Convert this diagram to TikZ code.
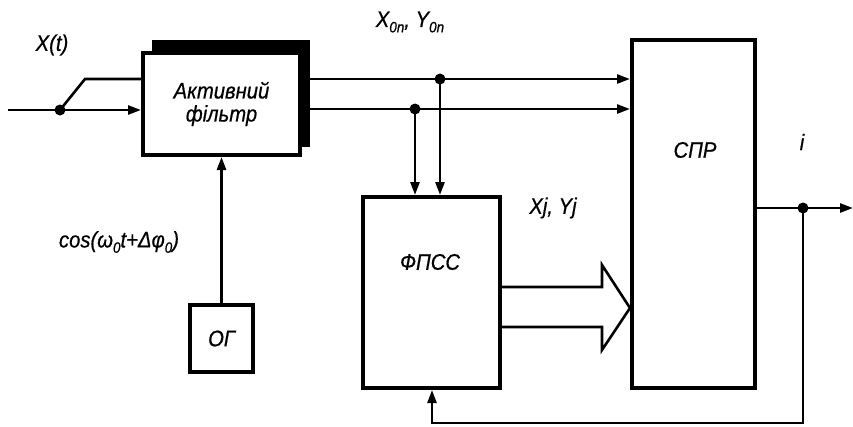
\documentclass[tikz,border=0pt]{standalone}
\usepackage{fontspec}
\setmainfont{Liberation Sans}[FakeStretch=0.9,FakeBold=0.6]
\usetikzlibrary{arrows.meta}
\newcommand{\lowidx}[1]{\raisebox{-0.45ex}{\fontsize{15}{15}\selectfont #1}}
\begin{document}
\begin{tikzpicture}[x=1pt,y=-1pt,
  box/.style={draw,line width=4pt,fill=white,inner sep=0pt},
  conn/.style={line width=2.6pt},
  arr/.style={conn,-{Triangle[length=13pt,width=9pt]}},
  lbl/.style={font=\fontsize{22.5}{25}\selectfont\itshape,inner sep=0pt},
  dot/.style={circle,fill=black,inner sep=0pt,minimum size=11pt}]
\useasboundingbox (0,0) rectangle (853,426);
% blocks
\fill (152,40) rectangle (310,147);
\node[box,minimum width=157pt,minimum height=102pt] (af) at (221.5,104) {};
\node[lbl,align=center] (aft) at (af.center) {Активний\\[-2pt]фільтр};
\node[box,minimum width=123pt,minimum height=348pt] (spr) at (693.5,214) {};
\node[lbl] (sprt) at (695,150) {СПР};
\node[box,minimum width=137pt,minimum height=191pt] (fp) at (431.5,292.5) {};
\node[lbl] (fpt) at (430,262) {ФПСС};
\node[box,minimum width=63pt,minimum height=67pt] (og) at (221.5,338.5) {};
\node[lbl] (ogt) at (og.center) {ОГ};
% coordinates
\coordinate (in) at (8,110);
\coordinate (k) at (85,79);
\coordinate (low) at (300,109);
\coordinate (dA) at (440,79);
\coordinate (dB) at (415,109);
\coordinate (o) at (spr.east |- 0,208);
\coordinate (out) at (853,208);
\coordinate (d3) at (803,208);
\coordinate (fb1) at (803,423);
\coordinate (fb2) at (432,423);
% input
\node[dot] (d1) at (60,110) {};
\draw[arr] (in) -- (d1.center) -- (d1 -| af.west);
\draw[conn] (d1.center) -- (k) -- (k -| af.west);
% filter outputs
\draw[arr] (k -| af.east) -- (k -| spr.west);
\draw[arr] (low) -- (low -| spr.west);
\node[dot] (nA) at (dA) {};
\node[dot] (nB) at (dB) {};
\draw[arr] (nA.center) -- (nA |- fp.north);
\draw[arr] (nB.center) -- (nB |- fp.north);
% oscillator
\draw[arr] (og.north) -- (og.north |- af.south);
% output and feedback
\draw[arr] (o) -- (out);
\node[dot] (n3) at (d3) {};
\draw[arr] (n3.center) -- (fb1) -- (fb2) -- (fb2 |- fp.south);
% hollow arrow
\draw[line width=2.6pt,line join=miter]
  (fp.east |- 0,287) -- (602,287) -- (602,265) -- (spr.west |- 0,308)
  -- (602,350) -- (602,327) -- (fp.east |- 0,327);
% labels
\node[lbl] (xt) at (52,45) {X(t)};
\node[lbl] (x0) at (410,22) {X\lowidx{0n}, Y\lowidx{0n}};
\node[lbl] (xj) at (553,208) {Xj, Yj};
\node[lbl] (ii) at (802,142) {i};
\node[lbl] (cs) at (119,242) {cos(ω\lowidx{0}t+Δφ\lowidx{0})};
\end{tikzpicture}
\end{document}
